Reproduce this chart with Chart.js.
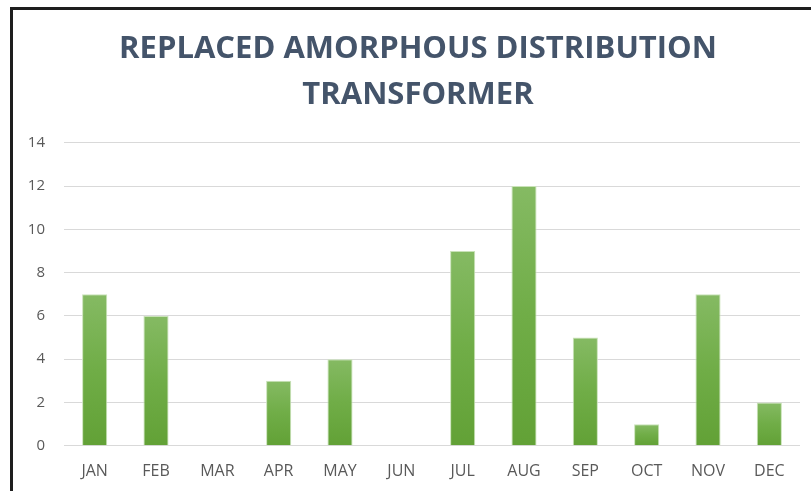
<!DOCTYPE html>
<html>
<head>
<meta charset="utf-8">
<script src="https://cdn.jsdelivr.net/npm/chart.js@4"></script>
<style>
html,body{margin:0;padding:0;background:#fff;width:811px;height:491px;overflow:hidden;}
#box{position:absolute;left:10px;top:7px;width:798px;height:481px;border-left:3px solid #1e1e1e;border-top:3px solid #1e1e1e;background:#fff;}
canvas{display:block;}
</style>
</head>
<body>
<div id="box"><canvas id="c" width="798" height="481"></canvas></div>
<script>
const categories = ['JAN','FEB','MAR','APR','MAY','JUN','JUL','AUG','SEP','OCT','NOV','DEC'];
const values = [7,6,0,3,4,0,9,12,5,1,7,2];
const titleLines = ['REPLACED AMORPHOUS DISTRIBUTION','TRANSFORMER'];

const gradPlugin = {
  id:'grad',
  afterLayout(chart){
    const tb = chart.titleBlock;
    if (tb) { tb.left += 12; tb.right += 11; }
  },
  beforeDatasetsDraw(chart){
    const ctx = chart.ctx;
    chart.getDatasetMeta(0).data.forEach(el=>{
      const top = Math.min(el.y, el.base), bot = Math.max(el.y, el.base);
      if (bot - top < 1) return;
      const g = ctx.createLinearGradient(0, top, 0, bot);
      g.addColorStop(0, '#85BA63');
      g.addColorStop(0.5, '#70AD47');
      g.addColorStop(1, '#62A136');
      el.options.backgroundColor = g;
    });
  }
};

new Chart(document.getElementById('c'), {
  type:'bar',
  data:{labels:categories, datasets:[{data:values, backgroundColor:(c)=>'#70AD47', borderColor:'#C9E2B8', borderWidth:1, barPercentage:0.41, categoryPercentage:1}]},
  options:{
    responsive:false, animation:false,
    layout:{padding:{left:0,right:11,top:0,bottom:2}},
    plugins:{
      legend:{display:false}, tooltip:{enabled:false},
      title:{display:true, text:titleLines, color:'#44546A', font:{family:'Open Sans', size:31, weight:'bold', lineHeight:1.48}, padding:{top:16,bottom:25}}
    },
    scales:{
      x:{grid:{display:false}, border:{display:false}, ticks:{color:'#595959', font:{family:'Open Sans', size:16}, padding:8}},
      y:{min:0,max:14, afterFit:(s)=>{s.width=51;}, ticks:{stepSize:2, color:'#595959', font:{family:'Open Sans', size:15}, padding:19}, grid:{color:'#D9D9D9', drawTicks:false}, border:{display:false}}
    }
  },
  plugins:[gradPlugin]
});
</script>
</body>
</html>
